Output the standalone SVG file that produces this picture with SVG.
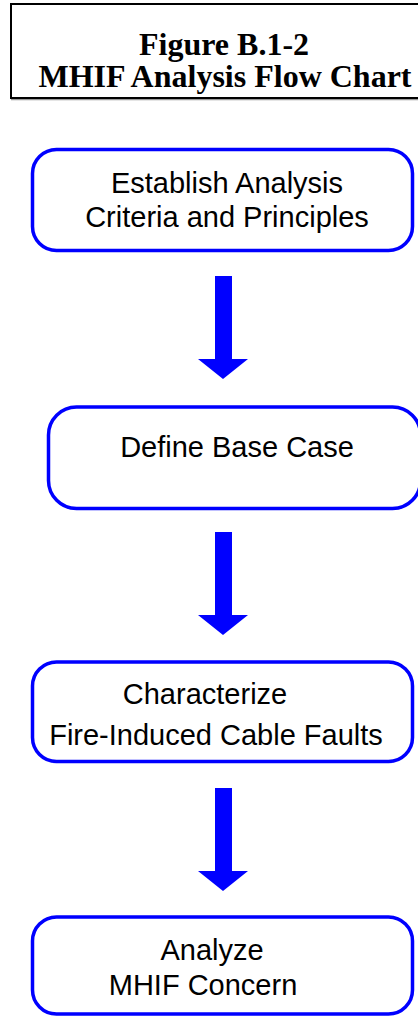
<svg xmlns="http://www.w3.org/2000/svg" width="418" height="1016" viewBox="0 0 418 1016">
<style>
.box{fill:#fff;stroke:#0000ff;stroke-width:3.5}
.t{font-family:"Liberation Sans",Arial,sans-serif;font-size:29px;fill:#000;text-anchor:middle}
.h{font-family:"Liberation Serif","Times New Roman",serif;font-size:32px;font-weight:bold;fill:#000;text-anchor:middle}
.arr{fill:#0000ff}
</style>
<rect width="418" height="1016" fill="#fff"/>
<g id="title">
<line x1="11" y1="99.5" x2="420" y2="99.5" stroke="#999" stroke-width="1.5"/>
<rect x="11" y="4" width="412" height="94" fill="#fff" stroke="#000" stroke-width="2"/>
<text class="h" x="224" y="55">Figure B.1-2</text>
<text class="h" x="225" y="87">MHIF Analysis Flow Chart</text>
</g>
<g id="connectors">
<path class="arr" d="M215 276 H232 V359 H248 L223 379 L198 359 H215 Z"/>
<path class="arr" d="M215 532 H232 V615 H248 L223 635 L198 615 H215 Z"/>
<path class="arr" d="M215 788 H232 V871 H248 L223 891 L198 871 H215 Z"/>
</g>
<g id="node1">
<rect class="box" x="32.5" y="149.5" width="380" height="101" rx="24"/>
<text class="t" x="227" y="193">Establish Analysis</text>
<text class="t" x="227" y="227">Criteria and Principles</text>
</g>
<g id="node2">
<rect class="box" x="48.5" y="407" width="372" height="101.5" rx="28"/>
<text class="t" x="237" y="457">Define Base Case</text>
</g>
<g id="node3">
<rect class="box" x="32.5" y="662" width="380" height="99.5" rx="24"/>
<text class="t" x="205" y="704">Characterize</text>
<text class="t" x="216" y="745">Fire-Induced Cable Faults</text>
</g>
<g id="node4">
<rect class="box" x="32.5" y="917" width="380" height="97" rx="24"/>
<text class="t" x="212" y="960">Analyze</text>
<text class="t" x="203" y="995">MHIF Concern</text>
</g>
</svg>
